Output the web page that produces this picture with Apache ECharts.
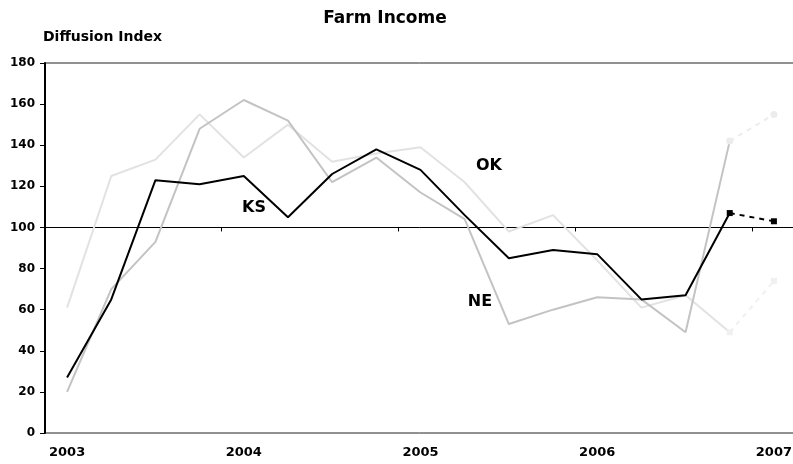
<!DOCTYPE html>
<html>
<head>
<meta charset="utf-8">
<script src="https://cdn.jsdelivr.net/npm/echarts@6/dist/echarts.min.js"></script>
<style>
html,body{margin:0;padding:0;background:#fff;}
#chart{width:793px;height:464px;}
</style>
</head>
<body>
<div id="chart"></div>
<script>
// Quarterly categories, 2003 Q1 .. 2007 Q1
const categories = ['2003Q1','2003Q2','2003Q3','2003Q4','2004Q1','2004Q2','2004Q3','2004Q4',
  '2005Q1','2005Q2','2005Q3','2005Q4','2006Q1','2006Q2','2006Q3','2006Q4','2007Q1'];
const yearLabels = ['2003','2004','2005','2006','2007'];
const ksValues = [27, 65, 123, 121, 125, 105, 126, 138, 128, 106, 85, 89, 87, 65, 67, 107, 103];
const neValues = [20, 70, 93, 148, 162, 152, 122, 134, 117, 104, 53, 60, 66, 65, 49, 142, 155];
const okValues = [61, 125, 133, 155, 134, 150, 132, 136, 139, 122, 98, 106, 84, 61, 67, 49, 74];
const forecastStart = 15; // last actual quarter index; forecast runs from here to the end
const yTicks = [0, 20, 40, 60, 80, 100, 120, 140, 160, 180];

function actual(arr){ return arr.map((v,i)=> i <= forecastStart ? v : null); }
function forecast(arr){ return arr.map((v,i)=> i >= forecastStart ? v : null); }

const FONT = 'DejaVu Sans';
const chart = echarts.init(document.getElementById('chart'), null, {renderer:'canvas'});
chart.setOption({
  animation: false,
  backgroundColor: '#fff',
  title: {
    text: 'Farm Income',
    left: 385, top: 10, padding: 0, textAlign: 'center',
    textStyle: {fontFamily: FONT, fontSize: 17, fontWeight: 'bold', color: '#000'}
  },
  grid: {
    left: 45, top: 63, width: 751, height: 370,
    outerBoundsMode: 'none', containLabel: false,
    show: true, borderColor: '#222', borderWidth: 1, backgroundColor: 'transparent'
  },
  xAxis: [{
    type: 'category', data: categories, boundaryGap: true, position: 'bottom',
    axisLine: {show: false, onZero: false},
    axisTick: {show: false},
    axisLabel: {
      interval: 3, margin: 13, color: '#000',
      fontFamily: FONT, fontSize: 13, fontWeight: 'bold',
      formatter: (v) => { const y = v.slice(0,4); return v.endsWith('Q1') && yearLabels.includes(y) ? y : ''; }
    },
    splitLine: {show: false}
  }, {
    type: 'category', data: categories, boundaryGap: true, position: 'bottom',
    axisLine: {show: true, onZero: true, onZeroAxisIndex: 1, lineStyle: {color: '#000', width: 1}},
    axisTick: {show: true, interval: 3, length: 4, inside: false, lineStyle: {color: '#000', width: 1}},
    axisLabel: {show: false},
    splitLine: {show: false}
  }],
  yAxis: [{
    type: 'value', min: yTicks[0], max: yTicks[yTicks.length-1], interval: 20,
    name: 'Diffusion Index', nameLocation: 'end', nameGap: 19,
    nameTextStyle: {fontFamily: FONT, fontSize: 14, fontWeight: 'bold', color: '#000', align: 'left', padding: [0,0,0,-2]},
    axisLine: {show: true, lineStyle: {color: '#000', width: 2}},
    axisTick: {show: true, length: 5, lineStyle: {color: '#000', width: 1}},
    axisLabel: {margin: 10, color: '#000', fontFamily: FONT, fontSize: 12, fontWeight: 'bold'},
    splitLine: {show: false}
  }, {
    // helper axis whose zero sits at 100 on the main scale, so the category axis crosses at 100
    type: 'value', min: yTicks[0] - 100, max: yTicks[yTicks.length-1] - 100, show: false,
    splitLine: {show: false}
  }],
  series: [
    {name: 'OK', type: 'line', data: actual(okValues), showSymbol: false, z: 2,
      lineStyle: {color: '#e2e2e2', width: 2}, itemStyle: {color: '#e2e2e2'}},
    {name: 'OK forecast', type: 'line', data: forecast(okValues), symbol: 'rect', symbolSize: 6, z: 2,
      lineStyle: {color: '#f0f0f0', width: 2, type: [5,5]}, itemStyle: {color: '#f0f0f0'}},
    {name: 'NE', type: 'line', data: actual(neValues), showSymbol: false, z: 3,
      lineStyle: {color: '#c3c3c3', width: 2}, itemStyle: {color: '#c3c3c3'}},
    {name: 'NE forecast', type: 'line', data: forecast(neValues), symbol: 'circle', symbolSize: 7, z: 3,
      lineStyle: {color: '#ececec', width: 2, type: [5,5]}, itemStyle: {color: '#ececec'}},
    {name: 'KS', type: 'line', data: actual(ksValues), showSymbol: false, z: 4,
      lineStyle: {color: '#000', width: 2}, itemStyle: {color: '#000'}},
    {name: 'KS forecast', type: 'line', data: forecast(ksValues), symbol: 'rect', symbolSize: 6, z: 4,
      lineStyle: {color: '#000', width: 2, type: [5,5]}, itemStyle: {color: '#000'}}
  ],
  graphic: [
    {type: 'text', x: 254, y: 208, style: {text: 'KS', fontFamily: FONT, fontSize: 16, fontWeight: 'bold', fill: '#000', align: 'center', verticalAlign: 'middle'}},
    {type: 'text', x: 489, y: 166, style: {text: 'OK', fontFamily: FONT, fontSize: 16, fontWeight: 'bold', fill: '#000', align: 'center', verticalAlign: 'middle'}},
    {type: 'text', x: 480, y: 302, style: {text: 'NE', fontFamily: FONT, fontSize: 16, fontWeight: 'bold', fill: '#000', align: 'center', verticalAlign: 'middle'}}
  ]
});
</script>
</body>
</html>
